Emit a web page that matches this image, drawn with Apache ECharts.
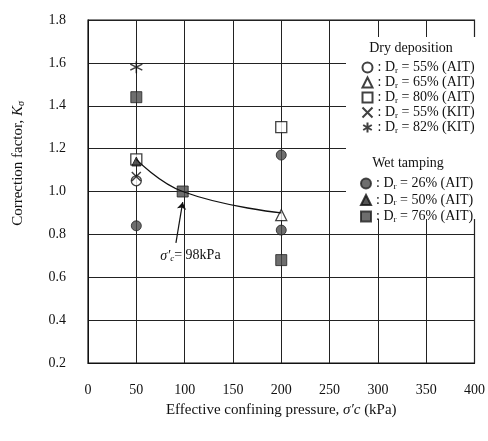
<!DOCTYPE html>
<html>
  <head>
    <meta charset="utf-8" />
    <script src="https://cdn.jsdelivr.net/npm/echarts@6.0.0/dist/echarts.min.js"></script>
  </head>
  <body style="margin: 0; background: #fff">
    <div id="main" style="width: 488px; height: 441px"></div>

    <script type="text/javascript">
      // axis ticks
      const xTicks = [0, 50, 100, 150, 200, 250, 300, 350, 400];
      const yTicks = [0.2, 0.4, 0.6, 0.8, 1.0, 1.2, 1.4, 1.6, 1.8];

      // dry deposition  [pressure kPa, K sigma]
      const dry55AIT = [[50, 1.05]];
      const dry65AIT = [[200, 0.89]];
      const dry80AIT = [[50, 1.15], [200, 1.3]];
      const dry55KIT = [[50, 1.07]];
      const dry82KIT = [[50, 1.58]];

      // wet tamping
      const wet26AIT = [[50, 0.84], [200, 1.17], [200, 0.82]];
      const wet50AIT = [[50, 1.14]];
      const wet76AIT = [[50, 1.44], [98, 1.0], [200, 0.68]];

      // hand drawn trend through the 98 kPa point
      const trendCurve = [[50, 1.15], [98, 1.0], [200, 0.9]];

      const serif = "Liberation Serif";
      const black = "#111";

      const dryNames = ["55% (AIT)", "65% (AIT)", "80% (AIT)", "55% (KIT)", "82% (KIT)"];
      const wetNames = ["26% (AIT)", "50% (AIT)", "76% (AIT)"];

      const legendRich = {
        t: { fontFamily: serif, fontSize: 14, color: black, lineHeight: 15 },
        s: { fontFamily: serif, fontSize: 9, color: black, lineHeight: 15, verticalAlign: "bottom", padding: [6, 0, 0, 0] },
      };
      function legendFmt(name) {
        return "{t|: D}{s|r}{t| = " + name + "}";
      }

      function openStyle() {
        return { color: "#fff", borderColor: black, borderWidth: 1.3 };
      }
      function filledStyle() {
        return { color: "#4a4a4a", borderColor: "#222", borderWidth: 1 };
      }

      const option = {
        animation: false,
        backgroundColor: "#fff",
        grid: {
          left: 88,
          right: 8,
          top: 20,
          bottom: 78,
          show: true,
          borderColor: black,
          borderWidth: 1.2,
        },
        xAxis: {
          type: "value",
          min: 0,
          max: 400,
          interval: 50,
          name: "Effective confining pressure, {i|σ′c} (kPa)",
          nameLocation: "middle",
          nameGap: 40,
          nameTextStyle: {
            fontFamily: serif,
            fontSize: 15,
            color: black,
            rich: { i: { fontFamily: serif, fontSize: 15, fontStyle: "italic", color: black } },
          },
          axisLine: { lineStyle: { color: black } },
          axisTick: { show: false },
          axisLabel: {
            fontFamily: serif,
            fontSize: 14,
            color: black,
            margin: 20,
            formatter: (v) => (xTicks.indexOf(v) >= 0 ? String(v) : ""),
          },
          splitLine: { lineStyle: { color: "#222", width: 1 } },
        },
        yAxis: {
          type: "value",
          min: 0.2,
          max: 1.8,
          interval: 0.2,
          name: "Correction factor, {k|K}{s|σ}",
          nameLocation: "middle",
          nameGap: 62,
          nameTextStyle: {
            fontFamily: serif,
            fontSize: 15,
            color: black,
            padding: [0, 0, 0, 56],
            rich: {
              k: { fontFamily: serif, fontSize: 15, fontStyle: "italic", color: black },
              s: { fontFamily: serif, fontSize: 10, fontStyle: "italic", color: black, verticalAlign: "bottom", padding: [6, 0, 0, 0] },
            },
          },
          axisLine: { lineStyle: { color: black } },
          axisTick: { show: false },
          axisLabel: {
            fontFamily: serif,
            fontSize: 14,
            color: black,
            margin: 22,
            formatter: (v) => {
              const t = yTicks.find((y) => Math.abs(y - v) < 1e-6);
              return t === undefined ? "" : t.toFixed(1);
            },
          },
          splitLine: { lineStyle: { color: "#222", width: 1 } },
        },
        legend: [
          {
            orient: "vertical",
            left: 355,
            top: 55,
            itemGap: 0,
            itemWidth: 10,
            itemHeight: 10,
            data: dryNames,
            formatter: legendFmt,
            textStyle: { rich: legendRich },
            selectedMode: false,
          },
          {
            orient: "vertical",
            left: 355,
            top: 171,
            itemGap: 1.5,
            itemWidth: 10,
            itemHeight: 10,
            data: wetNames,
            formatter: legendFmt,
            textStyle: { rich: legendRich },
            selectedMode: false,
          },
        ],
        graphic: [
          {
            type: "rect",
            z: 3,
            shape: { x: 346, y: 37, width: 130, height: 182 },
            style: { fill: "#fff" },
          },
          {
            type: "text",
            z: 5,
            x: 411,
            y: 48,
            style: { text: "Dry deposition", font: "14px " + serif, fill: black, align: "center", verticalAlign: "middle" },
          },
          {
            type: "text",
            z: 5,
            x: 408,
            y: 163,
            style: { text: "Wet tamping", font: "14px " + serif, fill: black, align: "center", verticalAlign: "middle" },
          },
        ],
        series: [
          {
            name: "trend",
            type: "line",
            data: trendCurve,
            smooth: 0.45,
            showSymbol: false,
            symbol: "none",
            lineStyle: { color: black, width: 1.3 },
            markLine: {
              silent: true,
              symbol: ["none", "arrow"],
              symbolSize: 7,
              lineStyle: { color: black, width: 1.2, type: "solid" },
              label: { show: false },
              data: [[{ coord: [91, 0.76] }, { coord: [98, 0.95] }]],
            },
            markPoint: {
              silent: true,
              symbol: "circle",
              symbolSize: 0,
              label: {
                show: true,
                position: "inside",
                formatter: "{i|σ′}{s|c}{t|= 98kPa}",
                rich: {
                  i: { fontFamily: serif, fontSize: 14, fontStyle: "italic", color: black },
                  s: { fontFamily: serif, fontSize: 9, fontStyle: "italic", color: black, verticalAlign: "bottom", padding: [6, 0, 0, 0] },
                  t: { fontFamily: serif, fontSize: 14, color: black },
                },
              },
              data: [{ coord: [106, 0.7] }],
            },
          },
          { name: dryNames[0], type: "scatter", data: dry55AIT, symbol: "circle", symbolSize: 10, itemStyle: openStyle() },
          { name: dryNames[1], type: "scatter", data: dry65AIT, symbol: "triangle", symbolSize: 11, itemStyle: openStyle() },
          { name: dryNames[2], type: "scatter", data: dry80AIT, symbol: "rect", symbolSize: 11, itemStyle: openStyle() },
          {
            name: dryNames[3],
            type: "scatter",
            data: dry55KIT,
            symbol: "path://M0,0L10,10M10,0L0,10",
            symbolSize: 9,
            itemStyle: { color: "none", borderColor: black, borderWidth: 1.5 },
          },
          {
            name: dryNames[4],
            type: "scatter",
            data: dry82KIT,
            symbol: "path://M5,0L5,10M0.7,2.5L9.3,7.5M0.7,7.5L9.3,2.5",
            symbolSize: 12,
            itemStyle: { color: "none", borderColor: black, borderWidth: 1.5 },
          },
          { name: wetNames[0], type: "scatter", data: wet26AIT, symbol: "circle", symbolSize: 10, itemStyle: filledStyle() },
          { name: wetNames[1], type: "scatter", data: wet50AIT, symbol: "triangle", symbolSize: 9, itemStyle: { color: "#2a2a2a", borderColor: "#111", borderWidth: 1 } },
          { name: wetNames[2], type: "scatter", data: wet76AIT, symbol: "rect", symbolSize: 11, itemStyle: filledStyle() },
        ],
      };

      const chart = echarts.init(document.getElementById("main"));
      chart.setOption(option);
    </script>
  </body>
</html>
